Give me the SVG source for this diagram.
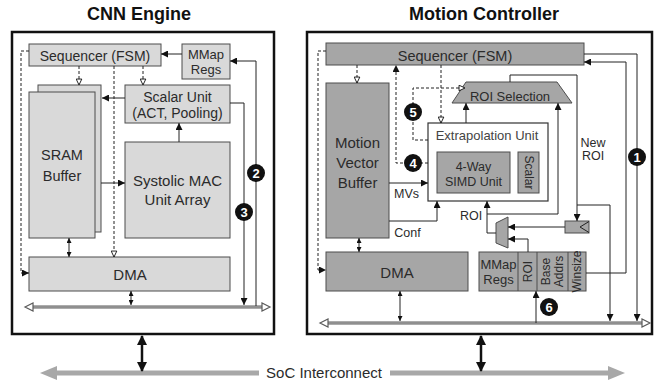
<svg xmlns="http://www.w3.org/2000/svg" width="659" height="383" viewBox="0 0 659 383">
  <style>
    text { font-family: "Liberation Sans", Arial, sans-serif; fill: #2b2b2b; }
    .title { font-weight: bold; font-size: 18px; fill: #111; text-anchor: middle; }
    .lbl { font-size: 14.5px; text-anchor: middle; }
    .sm { font-size: 13px; text-anchor: middle; }
    .xs { font-size: 12.5px; text-anchor: middle; }
    .rot { font-size: 12px; text-anchor: middle; dominant-baseline: central; }
    .frame { fill: #fff; stroke: #111; stroke-width: 2.5; }
    .lt { fill: #d9d9d9; stroke: #4d4d4d; stroke-width: 1; }
    .dk { fill: #a6a6a6; stroke: #4d4d4d; stroke-width: 1; }
    .wt { fill: #fff; stroke: #333; stroke-width: 1.2; }
    .w { fill: none; stroke: #222; stroke-width: 1; }
    .d { fill: none; stroke: #222; stroke-width: 1; stroke-dasharray: 3 2; }
    .busO { stroke: #5a5a5a; stroke-width: 3.2; }
    .busI { stroke: #c4c4c4; stroke-width: 1.2; }
    .busH { fill: #fff; stroke: #5a5a5a; stroke-width: 1.2; }
    .soc { stroke: #a8a8a8; stroke-width: 5; }
    .socH { fill: #a8a8a8; }
    .big { fill: none; stroke: #111; stroke-width: 2.5; }
    .num circle { fill: #111; }
    .num text { fill: #fff; font-weight: bold; font-size: 13px; text-anchor: middle; }
  </style>
  <defs>
    <marker id="ah" viewBox="0 0 10 10" refX="10" refY="5" markerWidth="7" markerHeight="7" markerUnits="userSpaceOnUse" orient="auto-start-reverse">
      <path d="M0,0 L10,5 L0,10 z" fill="#111"/>
    </marker>
    <marker id="sh" viewBox="0 0 10 10" refX="10" refY="5" markerWidth="5" markerHeight="5" markerUnits="userSpaceOnUse" orient="auto-start-reverse">
      <path d="M0,0 L10,5 L0,10 z" fill="#111"/>
    </marker>
    <marker id="oh" viewBox="0 0 10 10" refX="9.5" refY="5" markerWidth="7" markerHeight="7" markerUnits="userSpaceOnUse" orient="auto-start-reverse">
      <path d="M1,1 L9.5,5 L1,9 z" fill="#fff" stroke="#111" stroke-width="1.3"/>
    </marker>
    <marker id="bh" viewBox="0 0 10 10" refX="9" refY="5" markerWidth="10" markerHeight="10" markerUnits="userSpaceOnUse" orient="auto-start-reverse">
      <path d="M0,0 L10,5 L0,10 z" fill="#111"/>
    </marker>
  </defs>

  <!-- ===================== CNN Engine ===================== -->
  <text class="title" x="139" y="20">CNN Engine</text>
  <rect class="frame" x="12" y="32" width="262" height="302"/>

  <g id="cnn-seq">
    <rect class="lt" x="29" y="44" width="132" height="22"/>
    <text class="lbl" x="95" y="61" style="font-size:14px">Sequencer (FSM)</text>
  </g>
  <g id="cnn-mmap">
    <rect class="lt" x="182" y="44" width="48" height="35"/>
    <text class="sm" x="206" y="59">MMap</text>
    <text class="sm" x="206" y="74">Regs</text>
  </g>
  <g id="cnn-sram">
    <rect class="lt" x="38" y="85" width="63" height="147"/>
    <rect class="lt" x="29" y="92" width="66" height="146"/>
    <text class="lbl" x="62" y="160">SRAM</text>
    <text class="lbl" x="62" y="181">Buffer</text>
  </g>
  <g id="cnn-scalar">
    <rect class="lt" x="125" y="85" width="105" height="38"/>
    <text class="lbl" x="177.5" y="102" style="font-size:14px">Scalar Unit</text>
    <text class="lbl" x="177.5" y="118" style="font-size:14px">(ACT, Pooling)</text>
  </g>
  <g id="cnn-mac">
    <rect class="lt" x="125" y="142" width="105" height="96"/>
    <text class="lbl" x="177.5" y="186" style="font-size:15px">Systolic MAC</text>
    <text class="lbl" x="177.5" y="205" style="font-size:15px">Unit Array</text>
  </g>
  <g id="cnn-dma">
    <rect class="lt" x="29" y="257" width="201" height="34"/>
    <text class="lbl" x="130" y="280" style="font-size:15px">DMA</text>
  </g>
  <g id="cnn-bus">
    <line class="busO" x1="32" y1="307" x2="263" y2="307"/>
    <line class="busI" x1="32" y1="307" x2="263" y2="307"/>
    <polygon class="busH" points="25,307 33,303 33,311"/>
    <polygon class="busH" points="270,307 262,303 262,311"/>
  </g>

  <g id="cnn-links">
    <path class="w" d="M182,54 H161" marker-end="url(#ah)"/>
    <path class="w" d="M125,98 H102" marker-end="url(#ah)"/>
    <path class="w" d="M179,142 V123" marker-end="url(#ah)"/>
    <path class="w" d="M101,183 H125" marker-end="url(#ah)"/>
    <path class="w" d="M69,238 V257" marker-start="url(#sh)" marker-end="url(#sh)"/>
    <path class="w" d="M131,291 V305" marker-start="url(#sh)" marker-end="url(#sh)"/>
    <path class="d" d="M79,66 V85" marker-end="url(#oh)"/>
    <path class="d" d="M143,66 V85" marker-end="url(#oh)"/>
    <path class="d" d="M114,66 V257" marker-end="url(#oh)"/>
    <path class="d" d="M29,51 H21 V273 H29" marker-end="url(#ah)"/>
    <path class="w" d="M230,103 H244 V305" marker-end="url(#ah)"/>
    <path class="w" d="M256,306 V61 H230" marker-end="url(#ah)"/>
  </g>
  <g class="num">
    <circle cx="256" cy="173" r="9"/><text x="256" y="177.5">2</text>
    <circle cx="244" cy="212" r="9"/><text x="244" y="216.5">3</text>
  </g>

  <!-- ===================== Motion Controller ===================== -->
  <text class="title" x="484" y="20">Motion Controller</text>
  <rect class="frame" x="307" y="32" width="345" height="302"/>

  <g id="mc-seq">
    <rect class="dk" x="326" y="43" width="258" height="22"/>
    <text class="lbl" x="455" y="61">Sequencer (FSM)</text>
  </g>
  <g id="mc-mvb">
    <rect class="dk" x="326" y="83" width="63" height="155"/>
    <text class="lbl" x="357.5" y="147.5" style="font-size:15px">Motion</text>
    <text class="lbl" x="357.5" y="167.5" style="font-size:15px">Vector</text>
    <text class="lbl" x="357.5" y="187.5" style="font-size:15px">Buffer</text>
  </g>
  <g id="mc-roisel">
    <polygon class="dk" points="466,82 557,82 572,103 452,103"/>
    <text class="sm" x="510" y="101">ROI Selection</text>
  </g>
  <g id="mc-extrap">
    <rect class="wt" x="428" y="123" width="120" height="78"/>
    <text class="sm" x="487" y="140" style="fill:#444">Extrapolation Unit</text>
    <rect class="dk" x="437" y="152" width="73" height="41"/>
    <text class="xs" x="473.5" y="171">4-Way</text>
    <text class="xs" x="473.5" y="186">SIMD Unit</text>
    <rect class="dk" x="518" y="152" width="21" height="41"/>
    <text class="rot" transform="rotate(90 528.5 172.5)" x="528.5" y="172.5">Scalar</text>
  </g>
  <g id="mc-dma">
    <rect class="dk" x="326" y="252" width="142" height="39"/>
    <text class="lbl" x="397" y="278" style="font-size:15px">DMA</text>
  </g>
  <g id="mc-mmap">
    <rect class="dk" x="479" y="252" width="107" height="39"/>
    <line class="w" x1="518" y1="252" x2="518" y2="291" style="stroke:#4d4d4d"/>
    <line class="w" x1="537" y1="252" x2="537" y2="291" style="stroke:#4d4d4d"/>
    <line class="w" x1="568" y1="252" x2="568" y2="291" style="stroke:#4d4d4d"/>
    <text class="sm" x="498.5" y="269">MMap</text>
    <text class="sm" x="498.5" y="284">Regs</text>
    <text class="rot" transform="rotate(-90 527.5 271.5)" x="527.5" y="271.5">ROI</text>
    <text class="rot" transform="rotate(-90 546 271.5)" x="546" y="271.5">Base</text>
    <text class="rot" transform="rotate(-90 559 271.5)" x="559" y="271.5">Addrs</text>
    <text class="rot" transform="rotate(-90 577 271.5)" x="577" y="271.5">Winsize</text>
  </g>
  <g id="mc-mux">
    <polygon class="dk" points="496,223 508,217 508,248 496,243"/>
  </g>
  <g id="mc-reg">
    <rect class="dk" x="565" y="221" width="24" height="12"/>
    <polyline class="w" points="589,221.5 580,227 589,232.5"/>
  </g>
  <g id="mc-bus">
    <line class="busO" x1="327" y1="323" x2="643" y2="323"/>
    <line class="busI" x1="327" y1="323" x2="643" y2="323"/>
    <polygon class="busH" points="320,323 328,319 328,327"/>
    <polygon class="busH" points="650,323 642,319 642,327"/>
  </g>

  <g id="mc-links">
    <path class="w" d="M389,183 H428" marker-end="url(#ah)"/>
    <path class="w" d="M389,221 H437 V201" marker-end="url(#ah)"/>
    <path class="w" d="M466,123 V103" marker-end="url(#ah)"/>
    <path class="d" d="M428,140 H413 V88 H465" marker-end="url(#oh)"/>
    <path class="d" d="M428,163 H396 V65" marker-end="url(#ah)"/>
    <path class="d" d="M441,65 V123" marker-end="url(#oh)"/>
    <path class="d" d="M357,65 V83" marker-end="url(#oh)"/>
    <path class="d" d="M326,51 H318 V270 H326" marker-end="url(#ah)"/>
    <path class="w" d="M359,238 V252" marker-start="url(#sh)" marker-end="url(#sh)"/>
    <path class="w" d="M400,291 V321" marker-start="url(#sh)" marker-end="url(#sh)"/>
    <path class="w" d="M496,233 H487 V201" marker-end="url(#ah)"/>
    <path class="w" d="M487,214 H558 V103" marker-end="url(#ah)"/>
    <path class="w" d="M565,227 H508" marker-end="url(#ah)"/>
    <path class="w" d="M528,252 V239 H508" marker-end="url(#ah)"/>
    <path class="w" d="M510,82 V75 H577 V221" marker-end="url(#ah)"/>
    <path class="w" d="M577,205 H610 V321" marker-end="url(#ah)"/>
    <path class="w" d="M586,273 H626 V62 H584" marker-end="url(#ah)"/>
    <path class="w" d="M584,54 H637 V321" marker-end="url(#ah)"/>
    <path class="w" d="M536,323 V291" marker-end="url(#ah)"/>
    <text class="xs" x="406.5" y="198">MVs</text>
    <text class="xs" x="407.5" y="236.5">Conf</text>
    <text class="xs" x="471" y="220">ROI</text>
    <text class="xs" x="593" y="146.5">New</text>
    <text class="xs" x="593" y="160">ROI</text>
  </g>
  <g class="num">
    <circle cx="637" cy="157" r="9"/><text x="637" y="161.5">1</text>
    <circle cx="413" cy="163" r="9"/><text x="413" y="167.5">4</text>
    <circle cx="413" cy="112" r="9"/><text x="413" y="116.5">5</text>
    <circle cx="549" cy="307" r="9"/><text x="549" y="311.5">6</text>
  </g>

  <!-- ===================== SoC interconnect ===================== -->
  <g id="soc">
    <line class="soc" x1="55" y1="373" x2="259" y2="373"/>
    <polygon class="socH" points="40,373 57,366 57,380"/>
    <line class="soc" x1="390" y1="373" x2="610" y2="373"/>
    <polygon class="socH" points="625,373 608,366 608,380"/>
    <text x="324" y="378" style="font-size:15px; text-anchor:middle">SoC Interconnect</text>
  </g>
  <g id="soc-links">
    <path class="big" d="M142,336 V371" marker-start="url(#bh)" marker-end="url(#bh)"/>
    <path class="big" d="M481,336 V371" marker-start="url(#bh)" marker-end="url(#bh)"/>
  </g>
</svg>
